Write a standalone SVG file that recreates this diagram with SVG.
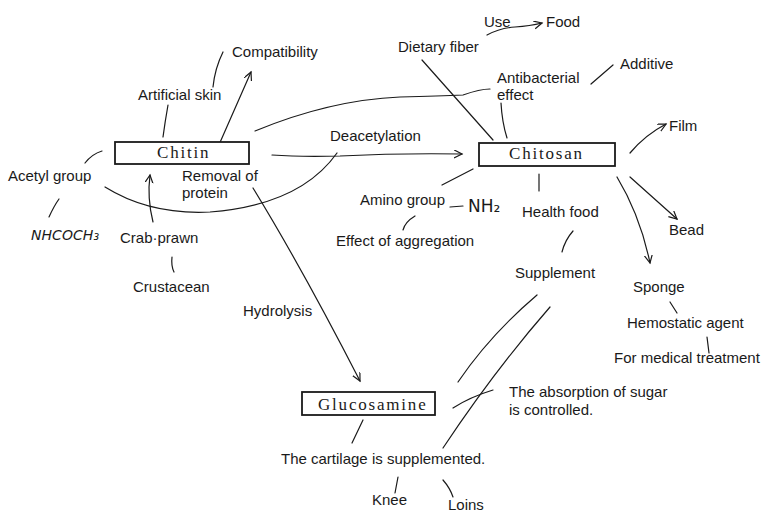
<svg xmlns="http://www.w3.org/2000/svg" width="763" height="513" viewBox="0 0 763 513">
<style>
.t{font-family:"Liberation Sans",Arial,sans-serif;font-size:15px;fill:#1a1a1a}
.s{font-family:"Liberation Serif","Times New Roman",serif;font-size:17px;letter-spacing:1.8px;fill:#1a1a1a}
.h{font-family:"DejaVu Sans",sans-serif;font-size:14px;fill:#1a1a1a}
.h2{font-family:"DejaVu Sans",sans-serif;font-size:17px;fill:#1a1a1a}
.box{fill:#fff;stroke:#1a1a1a;stroke-width:1.8}
.c path{fill:none;stroke:#1a1a1a;stroke-width:1.2;stroke-linecap:round}
</style>
<defs>
<marker id="a" markerWidth="10" markerHeight="10" refX="8" refY="4" orient="auto" markerUnits="userSpaceOnUse">
<path d="M0,0 L8,4 L0,8" fill="none" stroke="#1a1a1a" stroke-width="1.2"/>
</marker>
</defs>
<rect width="763" height="513" fill="#fff"/>
<g class="c" id="connectors">
<path d="M168,105 Q165,122 163,137"/>
<path d="M223,52 Q215,68 213,87"/>
<path d="M218,147 L251,72" marker-end="url(#a)"/>
<path d="M85,163 Q92,154 102,151"/>
<path d="M49,217 Q54,206 59,199"/>
<path d="M153,222 Q147,198 150,175" marker-end="url(#a)"/>
<path d="M172,257 Q171,266 174,272"/>
<path d="M105,187 Q150,215 210,212 Q300,205 337,153"/>
<path d="M272,155 Q300,157 340,156 Q400,153 462,154" marker-end="url(#a)"/>
<path d="M255,131 Q330,100 400,97 Q440,96 463,95 Q480,89 490,89"/>
<path d="M253,188 Q302,268 360,381" marker-end="url(#a)"/>
<path d="M487,35 Q500,28 515,27 Q530,26 542,23" marker-end="url(#a)"/>
<path d="M422,60 L493,140"/>
<path d="M501,103 Q502,122 507,138"/>
<path d="M591,84 L613,65"/>
<path d="M630,153 Q645,135 666,124" marker-end="url(#a)"/>
<path d="M442,185 L473,169"/>
<path d="M539,174 L539,191"/>
<path d="M450,207 L463,206"/>
<path d="M415,216 Q405,222 403,230"/>
<path d="M573,231 Q565,240 562,252"/>
<path d="M630,177 L677,219" marker-end="url(#a)"/>
<path d="M617,177 Q640,215 650,263" marker-end="url(#a)"/>
<path d="M670,302 L677,313"/>
<path d="M707,337 L709,353"/>
<path d="M537,295 Q490,335 458,382"/>
<path d="M550,307 Q495,370 443,448"/>
<path d="M453,408 Q470,397 493,390"/>
<path d="M363,420 L352,443"/>
<path d="M398,477 L395,493"/>
<path d="M443,480 Q450,488 453,497"/>
</g>
<g id="chitin"><rect class="box" x="115" y="142" width="134" height="22"/><text class="s" x="157" y="158">Chitin</text></g>
<g id="chitosan"><rect class="box" x="479" y="143" width="136" height="23"/><text class="s" x="509" y="159">Chitosan</text></g>
<g id="glucosamine"><rect class="box" x="302" y="392" width="133" height="23"/><text class="s" x="318" y="410">Glucosamine</text></g>
<g id="compatibility"><text class="t" x="232" y="57">Compatibility</text></g>
<g id="artificial-skin"><text class="t" x="138" y="100">Artificial skin</text></g>
<g id="acetyl-group"><text class="t" x="8" y="181">Acetyl group</text></g>
<g id="nhcoch3"><text class="h" x="31" y="240" font-style="italic" textLength="68">NHCOCH₃</text></g>
<g id="crab-prawn"><text class="t" x="120" y="243">Crab·prawn</text></g>
<g id="crustacean"><text class="t" x="133" y="292">Crustacean</text></g>
<g id="removal"><text class="t" x="182" y="181">Removal of</text><text class="t" x="182" y="198">protein</text></g>
<g id="deacetylation"><text class="t" x="330" y="141">Deacetylation</text></g>
<g id="use"><text class="t" x="484" y="27">Use</text></g>
<g id="food"><text class="t" x="546" y="27">Food</text></g>
<g id="dietary-fiber"><text class="t" x="398" y="52">Dietary fiber</text></g>
<g id="additive"><text class="t" x="620" y="69">Additive</text></g>
<g id="antibacterial"><text class="t" x="497" y="83">Antibacterial</text><text class="t" x="497" y="100">effect</text></g>
<g id="film"><text class="t" x="669" y="131">Film</text></g>
<g id="amino-group"><text class="t" x="360" y="205">Amino group</text></g>
<g id="nh2"><text class="h2" x="468" y="212">NH₂</text></g>
<g id="health-food"><text class="t" x="522" y="217">Health food</text></g>
<g id="aggregation"><text class="t" x="336" y="246">Effect of aggregation</text></g>
<g id="bead"><text class="t" x="669" y="235">Bead</text></g>
<g id="supplement"><text class="t" x="515" y="278">Supplement</text></g>
<g id="sponge"><text class="t" x="633" y="292">Sponge</text></g>
<g id="hemostatic"><text class="t" x="627" y="328">Hemostatic agent</text></g>
<g id="medical"><text class="t" x="614" y="363">For medical treatment</text></g>
<g id="hydrolysis"><text class="t" x="243" y="316">Hydrolysis</text></g>
<g id="absorption"><text class="t" x="509" y="397">The absorption of sugar</text><text class="t" x="509" y="415">is controlled.</text></g>
<g id="cartilage"><text class="t" x="281" y="464">The cartilage is supplemented.</text></g>
<g id="knee"><text class="t" x="372" y="505">Knee</text></g>
<g id="loins"><text class="t" x="448" y="510">Loins</text></g>
</svg>
